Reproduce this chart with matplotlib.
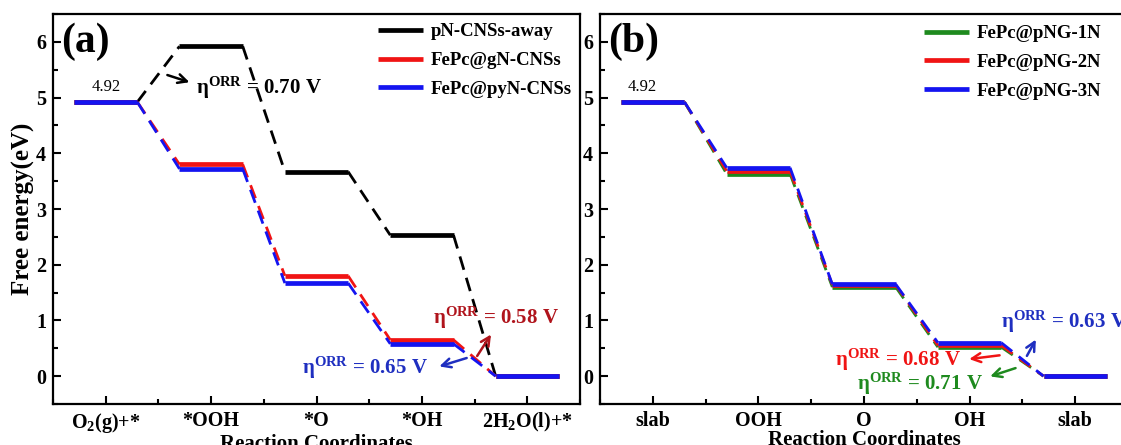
import matplotlib
matplotlib.use("Agg")
import matplotlib.pyplot as plt
from matplotlib.ticker import MultipleLocator

plt.rcParams['font.family'] = ['Liberation Serif', 'DejaVu Serif']
plt.rcParams['font.weight'] = 'bold'
plt.rcParams['mathtext.fontset'] = 'custom'
plt.rcParams['mathtext.rm'] = 'Liberation Serif:bold'
plt.rcParams['mathtext.it'] = 'Liberation Serif:bold'
plt.rcParams['mathtext.bf'] = 'Liberation Serif:bold'

# ---------------- data ----------------
labels_a = [r'O$_2$(g)+*', '*OOH', '*O', '*OH', r'2H$_2$O(l)+*']
pN_away = [4.92, 5.92, 3.67, 2.53, 0.0]
gN_CNSs = [4.92, 3.80, 1.80, 0.65, 0.0]
pyN_CNSs = [4.92, 3.72, 1.67, 0.58, 0.0]
names_a = ['pN-CNSs-away', 'FePc@gN-CNSs', 'FePc@pyN-CNSs']

labels_b = ['slab', 'OOH', 'O', 'OH', 'slab']
pNG_1N = [4.92, 3.63, 1.60, 0.52, 0.0]
pNG_2N = [4.92, 3.68, 1.64, 0.55, 0.0]
pNG_3N = [4.92, 3.74, 1.65, 0.60, 0.0]
names_b = ['FePc@pNG-1N', 'FePc@pNG-2N', 'FePc@pNG-3N']

W, H = 1121, 445
fig = plt.figure(figsize=(W / 100, H / 100), dpi=100)
fig.patch.set_facecolor('white')

HALF = 0.3


def draw_profile(ax, levels, color, label):
    for i, y in enumerate(levels):
        ax.plot([i - HALF, i + HALF], [y, y], color=color, lw=3.4,
                solid_capstyle='butt', label=label if i == 0 else None)
    for i in range(len(levels) - 1):
        ax.plot([i + HALF, i + 1 - HALF], [levels[i], levels[i + 1]],
                color=color, lw=2.0, dashes=(5, 3))


def style_axes(ax, labels):
    ax.set_xlim(-0.5, 4.5)
    ax.set_ylim(-0.5, 6.5)
    ax.set_xticks(range(len(labels)))
    ax.set_xticklabels(labels, fontsize=14, fontweight='bold')
    ax.xaxis.set_minor_locator(MultipleLocator(0.5))
    ax.yaxis.set_major_locator(MultipleLocator(1))
    ax.yaxis.set_minor_locator(MultipleLocator(0.5))
    ax.tick_params(which='both', direction='in', width=1.5,
                   top=False, right=False)
    ax.tick_params(which='major', length=6, labelsize=14.5, pad=5)
    ax.tick_params(which='minor', length=3.5)
    for sp in ax.spines.values():
        sp.set_linewidth(1.6)
    for t in ax.get_yticklabels():
        t.set_fontweight('bold')
    ax.set_xlabel('Reaction Coordinates', fontsize=15, fontweight='bold',
                  labelpad=-1)


def add_legend(ax, anchor):
    leg = ax.legend(loc='upper right', frameon=False, fontsize=13.5,
                    handlelength=2.4, handletextpad=0.45, labelspacing=0.62,
                    bbox_to_anchor=anchor, borderaxespad=0.3)
    for line in leg.get_lines():
        line.set_linewidth(3.4)


ANN = 15

# ---------------- panel (a) ----------------
ax1 = fig.add_axes([53 / W, 41 / H, 527 / W, 390 / H])
draw_profile(ax1, pN_away, 'black', names_a[0])
draw_profile(ax1, gN_CNSs, '#f01414', names_a[1])
draw_profile(ax1, pyN_CNSs, '#1414f0', names_a[2])
style_axes(ax1, labels_a)
ax1.set_ylabel('Free energy(eV)', fontsize=18, fontweight='bold', labelpad=1)
ax1.text(-0.42, 6.0, '(a)', fontsize=30, fontweight='bold', va='center', ha='left')
ax1.text(0.0, 5.05, '4.92', fontsize=12, fontweight='normal', ha='center', va='bottom')
add_legend(ax1, (1.01, 1.01))

ax1.annotate('', xy=(0.82, 5.26), xytext=(0.56, 5.42),
             arrowprops=dict(arrowstyle='->', color='black', lw=1.8, mutation_scale=16))
ax1.text(1.45, 5.17, r'η$^{\mathrm{ORR}}$ = 0.70 V', fontsize=ANN, color='black',
         ha='center', va='center')
ax1.annotate('', xy=(3.67, 0.79), xytext=(3.51, 0.32),
             arrowprops=dict(arrowstyle='->', color='#b0141c', lw=1.8, mutation_scale=16))
ax1.text(3.70, 1.04, r'η$^{\mathrm{ORR}}$ = 0.58 V', fontsize=ANN, color='#b0141c',
         ha='center', va='center')
ax1.annotate('', xy=(3.14, 0.16), xytext=(3.45, 0.34),
             arrowprops=dict(arrowstyle='->', color='#1f2fc0', lw=1.8, mutation_scale=16))
ax1.text(2.46, 0.14, r'η$^{\mathrm{ORR}}$ = 0.65 V', fontsize=ANN, color='#1f2fc0',
         ha='center', va='center')

# ---------------- panel (b) ----------------
ax2 = fig.add_axes([600 / W, 41 / H, 528 / W, 390 / H])
draw_profile(ax2, pNG_1N, '#1e8a1e', names_b[0])
draw_profile(ax2, pNG_2N, '#f01414', names_b[1])
draw_profile(ax2, pNG_3N, '#1414f0', names_b[2])
style_axes(ax2, labels_b)
ax2.text(-0.42, 6.0, '(b)', fontsize=30, fontweight='bold', va='center', ha='left')
ax2.text(-0.1, 5.05, '4.92', fontsize=12, fontweight='normal', ha='center', va='bottom')
add_legend(ax2, (0.975, 1.005))

ax2.annotate('', xy=(3.64, 0.70), xytext=(3.53, 0.32),
             arrowprops=dict(arrowstyle='->', color='#1f2fc0', lw=1.8, mutation_scale=16))
ax2.text(3.30, 0.97, r'η$^{\mathrm{ORR}}$ = 0.63 V', fontsize=ANN, color='#1f2fc0',
         ha='left', va='center')
ax2.annotate('', xy=(2.97, 0.30), xytext=(3.31, 0.38),
             arrowprops=dict(arrowstyle='->', color='#f01414', lw=1.8, mutation_scale=16))
ax2.text(2.32, 0.30, r'η$^{\mathrm{ORR}}$ = 0.68 V', fontsize=ANN, color='#f01414',
         ha='center', va='center')
ax2.annotate('', xy=(3.17, -0.02), xytext=(3.46, 0.16),
             arrowprops=dict(arrowstyle='->', color='#1e8a1e', lw=1.8, mutation_scale=16))
ax2.text(2.53, -0.14, r'η$^{\mathrm{ORR}}$ = 0.71 V', fontsize=ANN, color='#1e8a1e',
         ha='center', va='center')

fig.savefig('out.png', dpi=100)
